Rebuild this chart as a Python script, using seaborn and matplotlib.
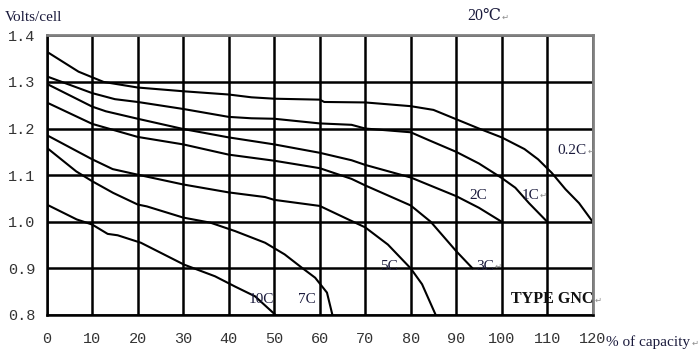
import numpy as np
import pandas as pd
import matplotlib
matplotlib.use("Agg")
import matplotlib.pyplot as plt
import seaborn as sns

# discharge curves, % of capacity vs volts/cell
x_02c = [0, 7, 12.5, 20, 30, 40, 45, 50, 60, 61, 70, 80, 85, 90, 95, 100, 105, 108, 111, 114, 117, 120]
v_02c = [1.365, 1.322, 1.300, 1.288, 1.280, 1.273, 1.267, 1.264, 1.262, 1.257, 1.256, 1.248, 1.240, 1.220,
         1.200, 1.181, 1.156, 1.134, 1.105, 1.070, 1.040, 1.0]
x_1c = [0, 10, 15, 20, 30, 40, 45, 50, 60, 67, 70, 80, 84, 90, 95, 100, 103, 106, 110]
v_1c = [1.312, 1.276, 1.263, 1.257, 1.242, 1.225, 1.222, 1.221, 1.211, 1.208, 1.200, 1.192, 1.175, 1.150,
        1.125, 1.094, 1.073, 1.040, 1.0]
x_2c = [0, 10, 13, 20, 30, 40, 50, 60, 67, 70, 80, 90, 95, 100]
v_2c = [1.296, 1.247, 1.237, 1.221, 1.199, 1.181, 1.166, 1.148, 1.132, 1.122, 1.095, 1.055, 1.030, 1.0]
x_3c = [0, 10, 15, 20, 30, 40, 50, 60, 67, 70, 80, 84.4, 90, 93.6]
v_3c = [1.256, 1.210, 1.196, 1.182, 1.166, 1.144, 1.131, 1.115, 1.092, 1.078, 1.035, 1.0, 0.937, 0.9]
x_5c = [0, 10, 14.5, 20, 30, 40, 48, 50, 60, 66.5, 70, 75, 80, 82.5, 85.5]
v_5c = [1.186, 1.134, 1.113, 1.101, 1.080, 1.063, 1.053, 1.047, 1.034, 1.004, 0.988, 0.951, 0.900, 0.866, 0.8]
x_7c = [0, 6.5, 10, 14.6, 20, 22, 30, 36, 41.4, 48, 52.3, 56, 59, 61.6, 62.8]
v_7c = [1.159, 1.108, 1.087, 1.062, 1.037, 1.033, 1.009, 0.998, 0.980, 0.955, 0.930, 0.902, 0.880, 0.848, 0.8]
x_10c = [0, 6.6, 10, 13.4, 15.6, 20.7, 30.2, 37, 41.4, 45.8, 50.3]
v_10c = [1.037, 1.005, 0.994, 0.974, 0.971, 0.955, 0.908, 0.883, 0.861, 0.840, 0.8]

curves = {"0.2C": (x_02c, v_02c), "1C": (x_1c, v_1c), "2C": (x_2c, v_2c), "3C": (x_3c, v_3c),
          "5C": (x_5c, v_5c), "7C": (x_7c, v_7c), "10C": (x_10c, v_10c)}

# label text, position (x, y), trailing return mark
labels = [("0.2C", 112.3, 1.152, True), ("1C", 104.3, 1.057, True), ("2C", 92.8, 1.057, False),
          ("3C", 94.3, 0.905, True), ("5C", 73.3, 0.905, False), ("7C", 55.3, 0.834, False),
          ("10C", 44.3, 0.834, False)]

x_ticks = list(range(0, 121, 10))
y_ticks = [0.8, 0.9, 1.0, 1.1, 1.2, 1.3, 1.4]

df = pd.concat([pd.DataFrame({"cap": xs, "volts": vs, "rate": k}) for k, (xs, vs) in curves.items()])

sns.set_style("white")
serif = ["Liberation Serif", "DejaVu Serif"]
txt_col = "#1a1a3c"
ret_col = "#8c8c8c"

fig = plt.figure(figsize=(7, 3.56), dpi=100)
ax = fig.add_axes([0.0667, 0.1152, 0.78, 0.7856])

sns.lineplot(data=df, x="cap", y="volts", units="rate", estimator=None, sort=False,
             color="black", lw=1.5, ax=ax, legend=False)

ax.set_xlim(0, 120)
ax.set_ylim(0.8, 1.4)
ax.set_xticks(x_ticks)
ax.set_yticks(y_ticks)
ax.set_yticklabels([f"{v:.1f}" for v in y_ticks])
ax.grid(True, color="black", lw=1.8)
ax.set_axisbelow(True)
ax.tick_params(length=0, labelsize=11, labelcolor="#333333", pad=12)
ax.tick_params(axis="y", pad=8)
for lab in ax.get_xticklabels() + ax.get_yticklabels():
    lab.set_family("Liberation Mono")
for s in ["left", "bottom"]:
    ax.spines[s].set_color("black")
    ax.spines[s].set_linewidth(1.8)
for s in ["top", "right"]:
    ax.spines[s].set_color("#808080")
    ax.spines[s].set_linewidth(2)
ax.set_xlabel("")
ax.set_ylabel("")

texts = []
for name, lx, ly, ret in labels:
    t = ax.text(lx, ly, name, family=serif, fontsize=11, color=txt_col, va="center")
    texts.append((t, ret))
t_type = ax.text(102, 0.834, "TYPE GNC", family=serif, fontsize=11.5, fontweight="bold",
                 color="#111111", va="center")
texts.append((t_type, True))

t_top = fig.text(0.667, 0.955, "20℃", family=serif, fontsize=11.5, color=txt_col, va="center")
texts.append((t_top, True))
fig.text(0.007, 0.952, "Volts/cell", family=serif, fontsize=11, color=txt_col, va="center")
t_cap = fig.text(0.866, 0.038, "% of capacity", family=serif, fontsize=11, color=txt_col, va="center")
texts.append((t_cap, True))

fig.canvas.draw()
for t, ret in texts:
    if not ret:
        continue
    bb = t.get_window_extent()
    fig.text((bb.x1 + 1) / fig.bbox.width, (bb.y0 + 2) / fig.bbox.height, "↵",
             family="DejaVu Sans", fontsize=6, color=ret_col, va="bottom")

fig.savefig("out.png", dpi=100)
